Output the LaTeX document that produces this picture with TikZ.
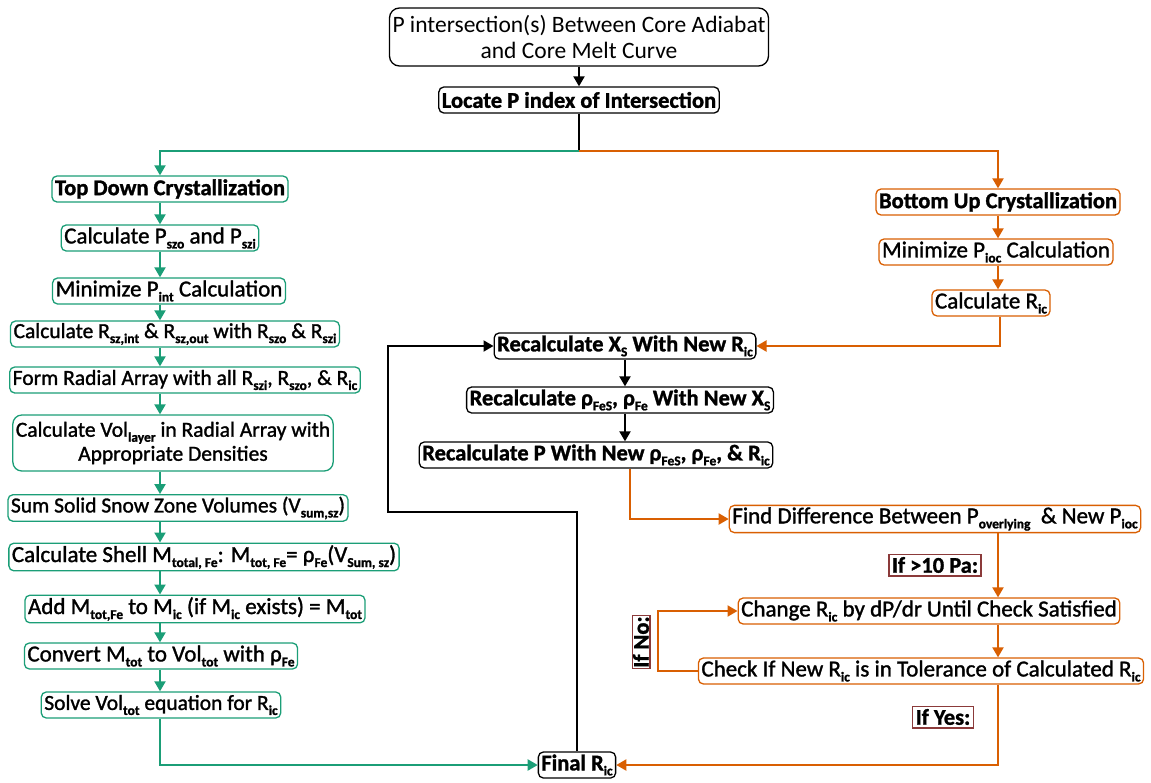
\documentclass[tikz,border=0pt]{standalone}
\usepackage{fontspec}
\setmainfont{Carlito}
\newfontfamily\medfont{Carlito}[FakeBold=1.3]
\usetikzlibrary{arrows.meta}
\definecolor{tdgreen}{HTML}{1B9E77}
\definecolor{buorange}{HTML}{D95F02}
\definecolor{lblred}{HTML}{8B3A3A}
\newcommand{\sbs}[1]{\raisebox{-5pt}{\fontsize{13.5}{14}\selectfont\bfseries #1}}
\tikzstyle{box}=[draw, rounded corners=5pt, line width=1.3pt, inner xsep=3pt, inner ysep=2pt,
                 minimum height=26pt, fill=white, font=\medfont\fontsize{23}{25}\selectfont]
\tikzstyle{kbox}=[box, draw=black]
\tikzstyle{gbox}=[box, draw=tdgreen]
\tikzstyle{obox}=[box, draw=buorange]
\tikzstyle{sbox}=[font=\medfont\fontsize{21.5}{24}\selectfont]
\tikzstyle{hbox}=[font=\medfont\bfseries\fontsize{22.5}{24}\selectfont]
\tikzstyle{lbox}=[draw=lblred, line width=1.2pt, inner sep=3pt, fill=white, font=\medfont\bfseries\fontsize{22.5}{24}\selectfont]
\tikzstyle{link}=[line width=2pt, -{Triangle[length=10pt, width=11pt]}]
\tikzstyle{karrow}=[link, color=black]
\tikzstyle{garrow}=[link, color=tdgreen]
\tikzstyle{oarrow}=[link, color=buorange]

\begin{document}
\begin{tikzpicture}[x=1pt, y=-1pt]
    \useasboundingbox (0, 0) rectangle (1151, 782);
    % start
    \node[kbox, rounded corners=10pt, align=center, minimum width=378pt, minimum height=58pt,
          font=\rmfamily\fontsize{23.5}{26}\selectfont] (start) at (579, 37)
        {P intersection(s) Between Core Adiabat\\and Core Melt Curve};
    \node[kbox, hbox] (locate) at (579, 100) {Locate P index of Intersection};
    \coordinate (split) at (579, 151);
    \coordinate (gcol) at (160, 0);
    \coordinate (ocol) at (998, 0);
    % top down branch
    \node[gbox, hbox] (topdown) at (170, 189) {Top Down Crystallization};
    \node[gbox] (calcp) at (160, 238) {Calculate P\sbs{szo} and P\sbs{szi}};
    \node[gbox] (minint) at (169, 291) {Minimize P\sbs{int} Calculation};
    \node[gbox, sbox] (calcrsz) at (175, 334) {Calculate R\sbs{sz,int} \& R\sbs{sz,out} with R\sbs{szo} \& R\sbs{szi}};
    \node[gbox, sbox] (radial) at (185, 380) {Form Radial Array with all R\sbs{szi}, R\sbs{szo}, \& R\sbs{ic}};
    \node[gbox, sbox, align=center, minimum height=56pt, rounded corners=9pt] (vollayer) at (173, 443)
        {Calculate Vol\sbs{layer} in Radial Array with\\Appropriate Densities};
    \node[gbox, sbox] (sumsolid) at (178, 508) {Sum Solid Snow Zone Volumes (V\sbs{sum,sz})};
    \node[gbox] (shell) at (204, 557) {Calculate Shell M\sbs{total, Fe}: M\sbs{tot, Fe}= ρ\sbs{Fe}(V\sbs{Sum, sz})};
    \node[gbox] (addm) at (195, 609) {Add M\sbs{tot,Fe} to M\sbs{ic} (if M\sbs{ic} exists) = M\sbs{tot}};
    \node[gbox] (convert) at (161, 656) {Convert M\sbs{tot} to Vol\sbs{tot} with ρ\sbs{Fe}};
    \node[gbox, sbox] (solve) at (161, 705) {Solve Vol\sbs{tot} equation for R\sbs{ic}};
    % bottom up branch
    \node[obox, hbox] (bottomup) at (998, 202) {Bottom Up Crystallization};
    \node[obox] (minioc) at (996, 252) {Minimize P\sbs{ioc} Calculation};
    \node[obox] (calcric) at (991, 303) {Calculate R\sbs{ic}};
    % recalculation loop
    \node[kbox, hbox] (recx) at (625, 346) {Recalculate X\sbs{S} With New R\sbs{ic}};
    \node[kbox, hbox] (recrho) at (620, 400) {Recalculate ρ\sbs{FeS}, ρ\sbs{Fe} With New X\sbs{S}};
    \node[kbox, hbox] (recp) at (596, 455) {Recalculate P With New ρ\sbs{FeS}, ρ\sbs{Fe}, \& R\sbs{ic}};
    \node[obox] (finddiff) at (935, 519) {Find Difference Between P\sbs{overlying}~ \& New P\sbs{ioc}};
    \node[obox] (change) at (929, 611) {Change R\sbs{ic} by dP/dr Until Check Satisfied};
    \node[obox] (check) at (921, 671) {Check If New R\sbs{ic} is in Tolerance of Calculated R\sbs{ic}};
    \node[lbox, rotate=90, inner sep=1pt] (ifno) at (641, 642) {If No:};
    \node[lbox] (ifyes) at (943, 717) {If Yes:};
    \node[kbox, hbox] (final) at (577, 765) {Final R\sbs{ic}};
    \coordinate (kloop) at (388, 512);
    \coordinate (noloop) at (658, 0);
    % connectors
    \draw[karrow] (start) -- (locate);
    \draw[line width=2pt] (locate.south) -- (split);
    \draw[garrow] (split) -| (gcol |- topdown.north);
    \draw[oarrow] (split) -| (ocol |- bottomup.north);
    \draw[garrow] (topdown.south -| gcol) -- (calcp.north -| gcol);
    \draw[garrow] (calcp.south -| gcol) -- (minint.north -| gcol);
    \draw[garrow] (minint.south -| gcol) -- (calcrsz.north -| gcol);
    \draw[garrow] (calcrsz.south -| gcol) -- (radial.north -| gcol);
    \draw[garrow] (radial.south -| gcol) -- (vollayer.north -| gcol);
    \draw[garrow] (vollayer.south -| gcol) -- (sumsolid.north -| gcol);
    \draw[garrow] (sumsolid.south -| gcol) -- (shell.north -| gcol);
    \draw[garrow] (shell.south -| gcol) -- (addm.north -| gcol);
    \draw[garrow] (addm.south -| gcol) -- (convert.north -| gcol);
    \draw[garrow] (convert.south -| gcol) -- (solve.north -| gcol);
    \draw[garrow] (solve.south -| gcol) |- (final.west);
    \draw[oarrow] (bottomup.south -| ocol) -- (minioc.north -| ocol);
    \draw[oarrow] (minioc.south -| ocol) -- (calcric.north -| ocol);
    \draw[oarrow] ([xshift=9pt]calcric.south) |- (recx.east);
    \draw[karrow] (recx.south) -- (recrho.north -| recx.south);
    \draw[karrow] (recrho.south -| recx.south) -- (recp.north -| recx.south);
    \draw[oarrow] ([xshift=34pt]recp.south) |- (finddiff.west);
    \draw[oarrow] (finddiff.south -| ocol) -- (change.north -| ocol);
    \draw[oarrow] (change.south -| ocol) -- (check.north -| ocol);
    \draw[oarrow] (check.west) -- (check.west -| noloop) |- (change.west);
    \draw[oarrow] (check.south -| ocol) |- (final.east);
    \draw[karrow] (final.north) |- (kloop) |- (recx.west);
    % label over the link
    \node[lbox] (ifgt) at (935, 565) {If >10 Pa:};
\end{tikzpicture}
\end{document}
